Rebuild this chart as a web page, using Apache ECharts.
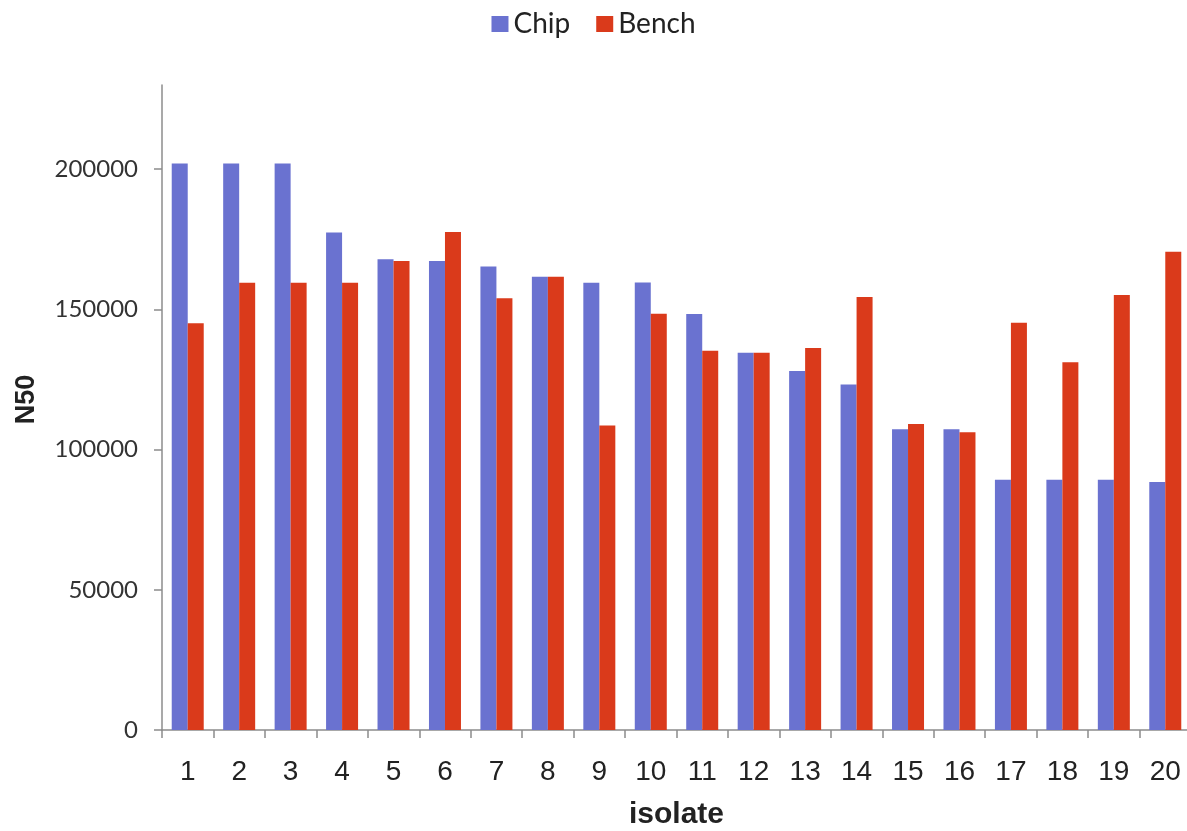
<!DOCTYPE html>
<html>
<head>
<meta charset="utf-8">
<title>N50 by isolate</title>
<script src="https://cdn.jsdelivr.net/npm/echarts@6/dist/echarts.min.js"></script>
<style>
  html, body { margin: 0; padding: 0; background: #ffffff; }
  #chart { width: 1187px; height: 831px; }
</style>
</head>
<body>
<div id="chart"></div>
<script>
// Isolate numbers along the x axis
const isolates = ['1','2','3','4','5','6','7','8','9','10','11','12','13','14','15','16','17','18','19','20'];

// N50 per isolate for each assembly method
const chipN50 = [202000, 202000, 202000, 177400, 167900, 167200, 165300, 161600, 159500, 159600,
                 148300, 134500, 128000, 123200, 107200, 107200, 89200, 89200, 89200, 88400];
const benchN50 = [145000, 159500, 159500, 159500, 167200, 177600, 154000, 161600, 108600, 148400,
                  135200, 134500, 136200, 154400, 109100, 106200, 145200, 131100, 155100, 170500];

// Labelled y-axis ticks
const yTicks = [0, 50000, 100000, 150000, 200000];

const axisGray = '#8c8c8c';
const chart = echarts.init(document.getElementById('chart'));

chart.setOption({
  animation: false,
  backgroundColor: '#ffffff',
  legend: {
    top: 5,
    left: 'center',
    itemWidth: 17,
    itemHeight: 16,
    itemGap: 26,
    icon: 'rect',
    textStyle: { fontFamily: 'Lato', fontSize: 28, color: '#222222' },
    data: ['Chip', 'Bench']
  },
  grid: { left: 162, top: 85, width: 1029, bottom: 101, outerBoundsMode: 'none', containLabel: false },
  xAxis: {
    type: 'category',
    data: isolates,
    name: 'isolate',
    nameLocation: 'middle',
    nameGap: 70,
    nameTextStyle: { fontFamily: 'Liberation Sans', fontSize: 30, fontWeight: 'bold', color: '#222222' },
    axisLine: { lineStyle: { color: axisGray, width: 1.5 } },
    axisTick: { show: true, length: 8, lineStyle: { color: axisGray, width: 1.5 } },
    axisLabel: { fontFamily: 'Liberation Sans', fontSize: 28, color: '#222222', margin: 28 }
  },
  yAxis: {
    type: 'value',
    min: 0,
    max: 230000,
    interval: 50000,
    name: 'N50',
    nameLocation: 'middle',
    nameGap: 122,
    nameRotate: 90,
    nameTextStyle: { fontFamily: 'Liberation Sans', fontSize: 27, fontWeight: 'bold', color: '#222222', padding: [0, 0, 0, 16] },
    splitLine: { show: false },
    axisLine: { show: true, lineStyle: { color: axisGray, width: 1.5 } },
    axisTick: { show: true, length: 8, lineStyle: { color: axisGray, width: 1.5 }, customValues: yTicks },
    axisLabel: {
      fontFamily: 'Lato',
      fontSize: 24,
      color: '#333333',
      margin: 24,
      customValues: yTicks,
      formatter: (v) => String(v)
    }
  },
  series: [
    {
      name: 'Chip',
      type: 'bar',
      data: chipN50,
      barWidth: 16,
      barGap: '0%',
      itemStyle: { color: '#6a72d0' }
    },
    {
      name: 'Bench',
      type: 'bar',
      data: benchN50,
      barWidth: 16,
      barGap: '0%',
      itemStyle: { color: '#da3a1b' }
    }
  ]
});
</script>
</body>
</html>
